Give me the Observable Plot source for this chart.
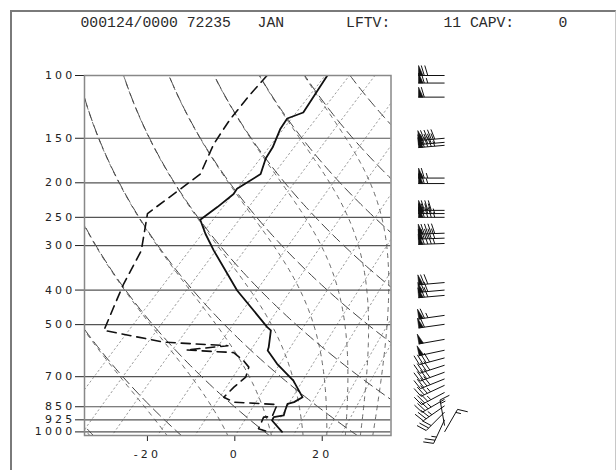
<!DOCTYPE html>
<html>
<head>
<meta charset="utf-8">
<script src="https://cdn.jsdelivr.net/npm/d3@7"></script>
<script src="https://cdn.jsdelivr.net/npm/@observablehq/plot@0.6"></script>
<style>
html,body{margin:0;padding:0;background:#fff;}
#wrap{position:relative;width:616px;height:470px;overflow:hidden;background:#fff;}
#border{position:absolute;left:10px;top:10px;width:603px;height:470px;border-left:2px solid #7a7a7a;border-top:2px solid #7a7a7a;border-right:1px solid #c8c8c8;}
#hdr{position:absolute;left:80.5px;top:16px;font-family:"Liberation Mono",monospace;font-size:14.75px;line-height:1;white-space:pre;color:#2a2a2a;}
#chart{position:absolute;left:0;top:0;}
#chart svg text{letter-spacing:3.2px;}
</style>
</head>
<body>
<div id="wrap"><div id="border"></div><div id="chart"></div><div id="hdr"></div></div>
<script>
// ---------------- data ----------------
const dateTime = "000124/0000";
const station = "72235";
const month = "JAN";
const lftv = 11;
const capv = 0;

const pLevels = [100, 150, 200, 250, 300, 400, 500, 700, 850, 925, 1000];
const xTicks = [-20, 0, 20];

// temperature profile (hPa, °C)
const tempP = [1000, 929, 909, 899, 871, 834, 825, 799, 718, 644, 591, 579, 519, 508, 401, 310, 278, 254, 234, 215, 208, 189, 171, 159, 141, 132, 127, 100];
const tempT = [10.8, 5.9, 5.5, 7.4, 6.6, 5.6, 6.7, 7.5, 1.6, -6.0, -11.2, -11.7, -15.1, -16.7, -32.0, -46.5, -52.3, -56.7, -55.7, -55.0, -55.4, -53.4, -55.8, -56.8, -59.3, -60.1, -57.8, -60.8];

// dew point profile (hPa, °C)
const dewP = [100, 113, 132, 137, 156, 189, 208, 244, 310, 384, 447, 519, 560, 573, 589, 599, 631, 658, 702, 749, 799, 825, 834, 838, 905, 909, 980, 1000];
const dewT = [-74.6, -74.1, -73.0, -72.6, -71.0, -67.2, -68.3, -70.2, -63.1, -59.5, -56.4, -53.3, -36.9, -21.4, -30.0, -18.5, -14.4, -11.7, -10.1, -10.5, -10.5, -7.1, 0.2, 3.4, 5.0, 3.2, 4.7, 7.7];

// winds (hPa, direction deg, speed kt)
const windP   = [100, 105, 115, 150, 154, 157, 194, 201, 239, 244, 250, 277, 286, 296, 381, 400, 414, 471, 499, 550, 590, 620, 650, 680, 710, 740, 775, 810, 845, 880, 925, 960, 1000];
const windDir = [270, 270, 270, 265, 265, 265, 270, 270, 270, 270, 270, 268, 268, 268, 265, 265, 265, 262, 262, 260, 258, 255, 252, 250, 248, 245, 242, 240, 235, 225, 205, 350, 30];
const windSpd = [70, 65, 60, 90, 90, 85, 65, 65, 80, 85, 85, 90, 90, 85, 70, 70, 70, 65, 60, 50, 50, 40, 40, 40, 40, 35, 35, 35, 35, 30, 25, 15, 15];

// reference line sets
const dryThetaK = [220, 240, 260, 280, 300, 320, 340, 360, 380, 400, 420, 440, 460, 480]; // K
const moistThetaK = [240, 260, 280, 300, 320, 340, 360, 380, 400];                     // K (theta-e)
const mixRatios = [0.1, 0.2, 0.4, 1, 2, 4, 7, 10, 16, 20];                              // g/kg

// ---------------- diagram geometry ----------------
const K = 35.6;                       // skew, °C per ln(p) unit
const skew = (T, p) => T + K * Math.log(1000 / p);
const PX_X = 306.5 / 70.14;           // px per °C on x
const PX_Y = 154.8;                   // px per ln(p) on y
const windX = 48;                     // barb column (skewed x units)

const pRange = [];
for (let lp = Math.log(1030); lp >= Math.log(99); lp -= 0.02) pRange.push(Math.exp(lp));

const dryLines = [];
dryThetaK.forEach(th => {
  pRange.forEach(p => {
    const T = th * Math.pow(p / 1000, 0.2857) - 273.15;
    dryLines.push({id: th, p, X: skew(T, p)});
  });
});

function es(Tk) { const c = Tk - 273.15; return 6.112 * Math.exp(17.67 * c / (c + 243.5)); }
function gam(Tk, p) {
  const e = es(Tk); const rs = 0.622 * e / (p - e);
  return (287.04 * Tk + 2.501e6 * rs) / (1005.7 + 2.501e6 * 2.501e6 * rs * 0.622 / (287.04 * Tk * Tk));
}
function integrate(T0, lpEnd, h) {
  let T = T0 + 273.15, lp = Math.log(1000);
  const out = [];
  while ((h < 0 && lp > lpEnd) || (h > 0 && lp < lpEnd)) {
    const k1 = gam(T, Math.exp(lp));
    const k2 = gam(T + h / 2 * k1, Math.exp(lp + h / 2));
    const k3 = gam(T + h / 2 * k2, Math.exp(lp + h / 2));
    const k4 = gam(T + h * k3, Math.exp(lp + h));
    T += h / 6 * (k1 + 2 * k2 + 2 * k3 + k4); lp += h;
    out.push({p: Math.exp(lp), T: T - 273.15});
  }
  return out;
}
function thetaTop(T0) {
  const up = integrate(T0, Math.log(60), -0.02);
  const last = up[up.length - 1];
  return (last.T + 273.15) * Math.pow(1000 / last.p, 0.2857);
}
const moistLines = [];
moistThetaK.forEach(target => {
  let lo = -60, hi = 45;
  for (let it = 0; it < 36; it++) {
    const mid = (lo + hi) / 2;
    if (thetaTop(mid) < target) lo = mid; else hi = mid;
  }
  const T0 = (lo + hi) / 2;
  const down = integrate(T0, Math.log(1030), 0.01).reverse();
  const up = integrate(T0, Math.log(99), -0.01);
  [...down, {p: 1000, T: T0}, ...up].forEach(d => moistLines.push({id: target, p: d.p, X: skew(d.T, d.p)}));
});

const mixLines = [];
mixRatios.forEach(w => {
  pRange.forEach(p => {
    const e = w * p / (622 + w);
    const a = Math.log(e / 6.112);
    const Td = 243.5 * a / (17.67 - a);
    mixLines.push({id: w, p, X: skew(Td, p)});
  });
});

// wind barbs built from the wind arrays
const barbLinks = [], flagPts = [];
const toData = (p, dx, dy) => ({x: windX + dx / PX_X, y: p * Math.exp(dy / PX_Y)});
windP.forEach((p, i) => {
  const r = windDir[i] * Math.PI / 180;
  const ux = Math.sin(r), uy = -Math.cos(r);
  const nx = -uy, ny = ux;
  const L = 26, H = 10, FW = 4.5, SP = 3.5;
  let spd = Math.round(windSpd[i] / 5) * 5;
  const a = toData(p, 0, 0), b = toData(p, L * ux, L * uy);
  barbLinks.push({x1: a.x, y1: a.y, x2: b.x, y2: b.y});
  let pos = L;
  let nf = Math.floor(spd / 50); spd -= nf * 50;
  let nb = Math.floor(spd / 10); spd -= nb * 10;
  const half = spd >= 5;
  for (let f = 0; f < nf; f++) {
    const id = i + "_" + f;
    const p0 = toData(p, pos * ux, pos * uy);
    const p1 = toData(p, pos * ux + H * nx, pos * uy + H * ny);
    const p2 = toData(p, (pos - FW) * ux, (pos - FW) * uy);
    [p0, p1, p2, p0].forEach(q => flagPts.push({id, x: q.x, y: q.y}));
    pos -= FW + 1.2;
  }
  for (let k = 0; k < nb; k++) {
    const s = toData(p, pos * ux, pos * uy);
    const t = toData(p, (pos + 3) * ux + H * nx, (pos + 3) * uy + H * ny);
    barbLinks.push({x1: s.x, y1: s.y, x2: t.x, y2: t.y});
    pos -= SP;
  }
  if (half) {
    if (nf === 0 && nb === 0) pos -= SP;
    const s = toData(p, pos * ux, pos * uy);
    const t = toData(p, (pos + 1.5) * ux + H / 2 * nx, (pos + 1.5) * uy + H / 2 * ny);
    barbLinks.push({x1: s.x, y1: s.y, x2: t.x, y2: t.y});
  }
});

const temp = tempP.map((p, i) => ({p, X: skew(tempT[i], p)}));
const dew = dewP.map((p, i) => ({p, X: skew(dewT[i], p)}));

const chart = Plot.plot({
  width: 616, height: 470,
  marginLeft: 84, marginRight: 225.5, marginTop: 75, marginBottom: 35,
  x: {domain: [-34.4, 35.74], ticks: xTicks, tickSize: 6, tickPadding: 9, tickFormat: d => String(d), label: null},
  y: {type: "log", domain: [100, 1023.5], reverse: true, ticks: pLevels, tickSize: 9, tickPadding: 0, tickFormat: d => String(d), label: null},
  style: {fontFamily: "DejaVu Sans", fontSize: "11px", color: "#222", background: "transparent"},
  marks: [
    Plot.line(mixLines, {x: "X", y: "p", z: "id", stroke: "#9a9a9a", strokeWidth: 1, strokeDasharray: "1.5,3", clip: true}),
    Plot.line(moistLines, {x: "X", y: "p", z: "id", stroke: "#666", strokeWidth: 1, strokeDasharray: "4,5", clip: true}),
    Plot.line(dryLines, {x: "X", y: "p", z: "id", stroke: "#444", strokeWidth: 1, strokeDasharray: "10,5", clip: true}),
    Plot.ruleY(pLevels.slice(1), {stroke: "#555", strokeWidth: 1.2}),
    Plot.line(dew, {x: "X", y: "p", stroke: "#111", strokeWidth: 1.6, strokeDasharray: "9,6", clip: true}),
    Plot.line(temp, {x: "X", y: "p", stroke: "#111", strokeWidth: 1.8, clip: true}),
    Plot.frame({stroke: "#888", strokeWidth: 1.5}),
    Plot.link(barbLinks, {x1: "x1", y1: "y1", x2: "x2", y2: "y2", stroke: "#111", strokeWidth: 1}),
    Plot.line(flagPts, {x: "x", y: "y", z: "id", fill: "#111", stroke: "#111", strokeWidth: 0.6})
  ]
});
document.getElementById("chart").appendChild(chart);

document.getElementById("hdr").textContent =
  `${dateTime} ${station}   ${month}       LFTV:${String(lftv).padStart(8)} CAPV:${String(capv).padStart(6)}`;
</script>
</body>
</html>
